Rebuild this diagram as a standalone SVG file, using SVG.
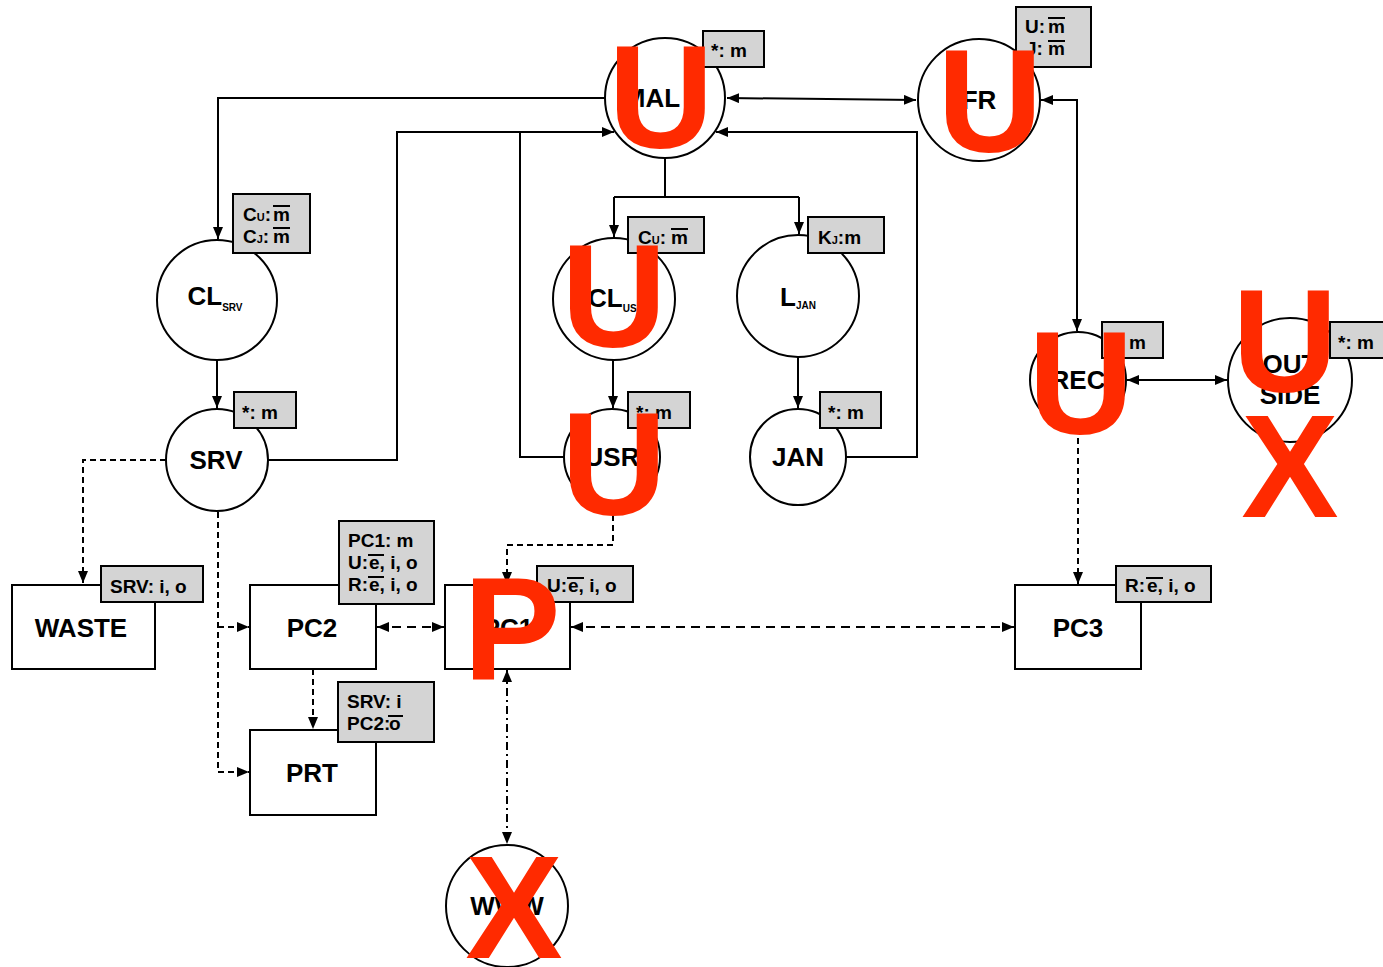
<svg xmlns="http://www.w3.org/2000/svg" width="1383" height="967" viewBox="0 0 1383 967">
<defs>
<marker id="ah" viewBox="0 0 12 10" refX="12" refY="5" markerWidth="12" markerHeight="10" markerUnits="userSpaceOnUse" orient="auto-start-reverse">
<path d="M0,0 L12,5 L0,10 z" fill="#000"/>
</marker>
<style>
.ln{fill:none;stroke:#000;stroke-width:2}
.dh{fill:none;stroke:#000;stroke-width:2;stroke-dasharray:9,6}
.dv{fill:none;stroke:#000;stroke-width:2;stroke-dasharray:6,4}
.dd{fill:none;stroke:#000;stroke-width:2;stroke-dasharray:8,4,2,4}
.nd{fill:#fff;stroke:#000;stroke-width:2}
.lb{fill:#d4d4d4;stroke:#000;stroke-width:2}
.nt{font-family:"Liberation Sans",Arial,sans-serif;font-weight:bold;font-size:26px;fill:#000;text-anchor:middle}
.sub{font-size:10px}
.lt{font-family:"Liberation Sans",Arial,sans-serif;font-weight:bold;font-size:19px;fill:#000}
.ls{font-size:11px}
.ov{stroke:#000;stroke-width:2}
.rd{font-family:"Liberation Sans",Arial,sans-serif;font-weight:bold;font-size:146px;fill:#ff2a00;text-anchor:middle}
</style>
</defs>
<rect width="1383" height="967" fill="#fff"/>
<g id="connectors">
<path class="ln" d="M606 98 H218 V239" marker-end="url(#ah)"/>
<path class="ln" d="M727 98 L916 100" marker-start="url(#ah)" marker-end="url(#ah)"/>
<path class="ln" d="M1041 100 H1077 V331" marker-start="url(#ah)" marker-end="url(#ah)"/>
<path class="ln" d="M268 460 H397 V132 H614" marker-end="url(#ah)"/>
<path class="ln" d="M564 457 H520 V132"/>
<path class="ln" d="M846 457 H917 V132 H716" marker-end="url(#ah)"/>
<path class="ln" d="M665 158 V197"/>
<path class="ln" d="M614 197 H799"/>
<path class="ln" d="M614 197 V237" marker-end="url(#ah)"/>
<path class="ln" d="M799 197 V234" marker-end="url(#ah)"/>
<path class="ln" d="M217 360 V408" marker-end="url(#ah)"/>
<path class="ln" d="M613 360 V408" marker-end="url(#ah)"/>
<path class="ln" d="M798 357 V408" marker-end="url(#ah)"/>
<path class="ln" d="M1127 380 H1227" marker-start="url(#ah)" marker-end="url(#ah)"/>
<path class="dv" d="M166 460 H83 V583" marker-end="url(#ah)"/>
<path class="dv" d="M218 512 V772 H249" marker-end="url(#ah)"/>
<path class="dv" d="M218 627 H249" marker-end="url(#ah)"/>
<path class="dh" d="M377 627 H444" marker-start="url(#ah)" marker-end="url(#ah)"/>
<path class="dv" d="M613 505 V545 H507 V584" marker-end="url(#ah)"/>
<path class="dh" d="M571 627 H1014" marker-start="url(#ah)" marker-end="url(#ah)"/>
<path class="dv" d="M313 669 V729" marker-end="url(#ah)"/>
<path class="dd" d="M507 670 V844" marker-start="url(#ah)" marker-end="url(#ah)"/>
<path class="dv" d="M1078 428 V584" marker-end="url(#ah)"/>
</g>
<g id="MAL">
<circle class="nd" cx="665" cy="98" r="60"/>
<text class="nt" x="652" y="107">MAL</text>
<rect class="lb" x="703" y="31" width="61" height="36"/>
<text class="lt" x="711" y="57">*: m</text>
</g>
<g id="FR">
<circle class="nd" cx="979" cy="100" r="61"/>
<text class="nt" x="979" y="109">FR</text>
<rect class="lb" x="1016" y="7" width="75" height="60"/>
<text class="lt" x="1025" y="33">U:<tspan x="1048">m</tspan></text>
<line class="ov" x1="1048" y1="18" x2="1065" y2="18"/>
<text class="lt" x="1026" y="55">J: <tspan x="1048">m</tspan></text>
<line class="ov" x1="1048" y1="41" x2="1065" y2="41"/>
</g>
<g id="CL_SRV">
<circle class="nd" cx="217" cy="300" r="60"/>
<text class="nt" x="215" y="305">CL<tspan class="sub" dy="6">SRV</tspan></text>
<rect class="lb" x="233" y="194" width="77" height="59"/>
<text class="lt" x="243" y="221">C<tspan class="ls">U</tspan>:<tspan x="273">m</tspan></text>
<line class="ov" x1="273" y1="206" x2="290" y2="206"/>
<text class="lt" x="243" y="243">C<tspan class="ls">J</tspan>:<tspan x="273">m</tspan></text>
<line class="ov" x1="273" y1="228" x2="290" y2="228"/>
</g>
<g id="CL_US">
<circle class="nd" cx="614" cy="299" r="61"/>
<text class="nt" x="616" y="307">CL<tspan class="sub" dy="5">USR</tspan></text>
<rect class="lb" x="628" y="217" width="76" height="36"/>
<text class="lt" x="638" y="244">C<tspan class="ls">U</tspan>:<tspan x="671">m</tspan></text>
<line class="ov" x1="671" y1="229" x2="688" y2="229"/>
</g>
<g id="L_JAN">
<circle class="nd" cx="798" cy="296" r="61"/>
<text class="nt" x="798" y="306">L<tspan class="sub" dy="3">JAN</tspan></text>
<rect class="lb" x="808" y="217" width="76" height="36"/>
<text class="lt" x="818" y="244">K<tspan class="ls">J</tspan>:m</text>
</g>
<g id="SRV">
<circle class="nd" cx="217" cy="460" r="51"/>
<text class="nt" x="216" y="469">SRV</text>
<rect class="lb" x="234" y="392" width="62" height="36"/>
<text class="lt" x="242" y="419">*: m</text>
</g>
<g id="USR">
<circle class="nd" cx="612" cy="457" r="48"/>
<text class="nt" x="612" y="466">USR</text>
<rect class="lb" x="628" y="392" width="62" height="36"/>
<text class="lt" x="636" y="419">*: m</text>
</g>
<g id="JAN">
<circle class="nd" cx="798" cy="457" r="48"/>
<text class="nt" x="798" y="466">JAN</text>
<rect class="lb" x="820" y="392" width="61" height="36"/>
<text class="lt" x="828" y="419">*: m</text>
</g>
<g id="REC">
<circle class="nd" cx="1078" cy="380" r="48"/>
<text class="nt" x="1078" y="389">REC</text>
<rect class="lb" x="1102" y="322" width="61" height="36"/>
<text class="lt" x="1110" y="349">*: m</text>
</g>
<g id="OUTSIDE">
<circle class="nd" cx="1290" cy="380" r="62"/>
<text class="nt" x="1290" y="373">OUT</text>
<text class="nt" x="1290" y="404">SIDE</text>
<rect class="lb" x="1330" y="322" width="62" height="36"/>
<text class="lt" x="1338" y="349">*: m</text>
</g>
<g id="WASTE">
<rect class="nd" x="12" y="585" width="143" height="84"/>
<text class="nt" x="81" y="637">WASTE</text>
<rect class="lb" x="101" y="566" width="102" height="36"/>
<text class="lt" x="110" y="593">SRV: i, o</text>
</g>
<g id="PC2">
<rect class="nd" x="250" y="585" width="126" height="84"/>
<text class="nt" x="312" y="637">PC2</text>
<rect class="lb" x="339" y="521" width="95" height="83"/>
<text class="lt" x="348" y="547">PC1: m</text>
<text class="lt" x="348" y="569">U:<tspan x="369">e</tspan>, i, o</text>
<line class="ov" x1="368" y1="555" x2="384" y2="555"/>
<text class="lt" x="348" y="591">R:<tspan x="369">e</tspan>, i, o</text>
<line class="ov" x1="368" y1="577" x2="384" y2="577"/>
</g>
<g id="PC1">
<rect class="nd" x="445" y="585" width="125" height="84"/>
<text class="nt" x="508" y="637">PC1</text>
<rect class="lb" x="537" y="566" width="96" height="36"/>
<text class="lt" x="547" y="592">U:<tspan x="568">e</tspan>, i, o</text>
<line class="ov" x1="567" y1="578" x2="584" y2="578"/>
</g>
<g id="PC3">
<rect class="nd" x="1015" y="585" width="126" height="84"/>
<text class="nt" x="1078" y="637">PC3</text>
<rect class="lb" x="1116" y="566" width="95" height="36"/>
<text class="lt" x="1125" y="592">R:<tspan x="1147">e</tspan>, i, o</text>
<line class="ov" x1="1146" y1="578" x2="1163" y2="578"/>
</g>
<g id="PRT">
<rect class="nd" x="250" y="730" width="126" height="85"/>
<text class="nt" x="312" y="782">PRT</text>
<rect class="lb" x="338" y="682" width="96" height="60"/>
<text class="lt" x="347" y="708">SRV: i</text>
<text class="lt" x="347" y="730">PC2:<tspan x="389">o</tspan></text>
<line class="ov" x1="388" y1="716" x2="403" y2="716"/>
</g>
<g id="WWW">
<circle class="nd" cx="507" cy="906" r="61"/>
<text class="nt" x="507" y="915">WWW</text>
</g>
<g id="marks">
<text class="rd" x="661" y="148">U</text>
<text class="rd" x="990" y="152">U</text>
<text class="rd" x="614" y="347">U</text>
<text class="rd" x="614" y="515">U</text>
<text class="rd" x="1081" y="434">U</text>
<text class="rd" x="1285" y="392">U</text>
<text class="rd" x="1290" y="517">X</text>
<text class="rd" x="514" y="958">X</text>
<text class="rd" x="512" y="680">P</text>
</g>
</svg>
